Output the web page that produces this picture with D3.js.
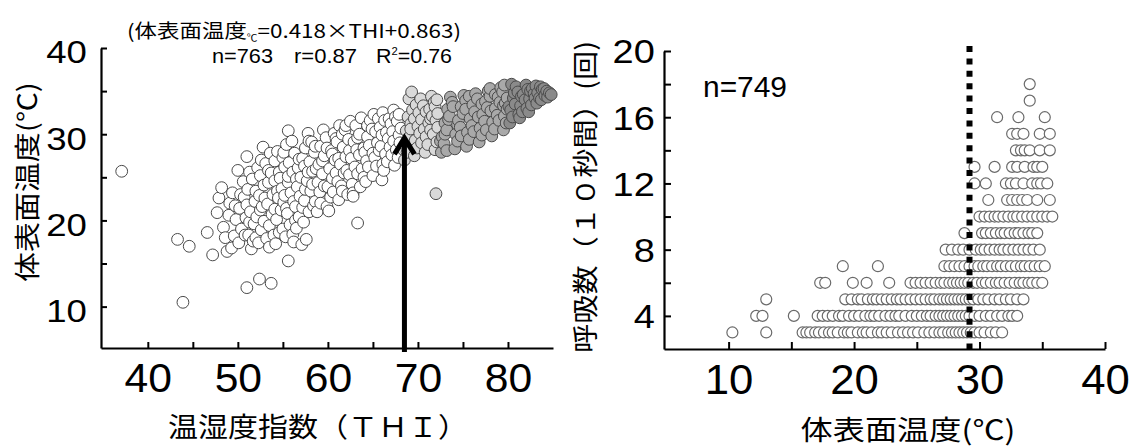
<!DOCTYPE html>
<html><head><meta charset="utf-8">
<script src="https://cdn.jsdelivr.net/npm/d3@7"></script>
<style>
html,body{margin:0;padding:0;background:#fff;}
svg{display:block;}
text{font-family:"Liberation Sans",Arial,sans-serif;fill:#000;}
.jp{font-family:"Noto Sans CJK JP","Noto Sans",sans-serif;}
</style></head><body>
<svg id="chart" width="1134" height="446"></svg>
<script>
// ---- Left panel: THI vs body surface temperature ----
const thiTicks = [40,45,50,55,60,65,70,75,80];
const thiLabels = [40,50,60,70,80];
const tempTicks = [10,15,20,25,30,35,40];
const tempLabels = [10,20,30,40];
const arrowThi = 68.5;      // THI threshold marked by the arrow
const arrowTipTemp = 29.9;
// [THI, surface temperature °C]
const thiTempPairs = [
  [37.1,25.7],[43.3,17.8],[44.6,17.0],[43.9,10.5],[46.6,18.6],[47.2,16.0],[51.0,12.2],[52.4,13.2],
  [53.7,12.7],[55.6,15.3],[63.3,19.7],[62.8,23.2],[51.0,27.4],[55.6,30.4],
  [48.2,23.8],[47.7,20.9],[49.1,22.0],[48.8,16.4],[49.3,16.8],[48.4,19.2],[47.9,22.6],
  [49.6,18.2],[49.8,20.1],[50.2,21.4],[49.4,23.2],[50.6,24.5],[50.1,17.4],[50.4,19.0],[50.9,20.3],[50.7,22.7],[51.3,25.6],
  [51.5,16.7],[51.2,18.3],[51.8,19.6],[51.4,21.0],[51.9,22.2],[51.1,23.6],[51.6,24.8],[52.2,26.1],[52.8,28.5],
  [52.3,17.4],[52.6,18.9],[52.1,20.4],[52.7,21.6],[52.4,22.9],[52.9,24.1],[52.5,25.2],[53.1,26.6],[53.6,27.8],
  [53.2,17.9],[53.5,19.4],[53.8,20.7],[53.3,21.9],[53.9,23.0],[53.4,24.4],[53.7,25.5],[54.1,26.9],[54.4,28.0],
  [54.2,17.3],[54.6,18.6],[54.3,20.1],[54.8,21.2],[54.5,22.6],[54.9,23.7],[54.7,24.9],[55.2,26.2],[55.0,27.3],[55.4,28.8],
  [55.3,18.1],[55.8,19.5],[55.5,20.8],[55.1,22.1],[55.9,23.2],[55.6,24.4],[56.1,25.6],[55.7,26.7],[56.3,27.8],[56.0,29.2],
  [56.2,17.5],[56.5,19.1],[56.8,20.4],[56.4,21.6],[56.9,22.8],[56.6,23.9],[57.0,25.0],[56.7,26.1],[57.2,27.2],[57.5,28.4],[57.8,30.1],
  [57.1,17.2],[57.6,17.8],[57.3,19.8],[57.9,21.0],[57.4,22.3],[58.1,23.4],[57.7,24.6],[58.3,25.7],[58.0,26.8],[58.5,27.9],[58.2,29.1],
  [58.8,21.0],[58.6,22.2],[59.1,23.3],[58.9,24.4],[59.4,25.4],[59.0,26.5],[59.6,27.5],[59.2,28.6],[59.8,29.6],[59.5,30.5],
  [59.9,21.6],[60.3,22.7],[60.0,23.9],[60.5,24.9],[60.2,26.0],[60.8,27.0],[60.4,28.1],[61.0,29.1],[60.7,30.1],[61.3,31.0],
  [61.2,22.4],[61.6,23.4],[61.1,24.5],[61.8,25.5],[61.4,26.5],[62.0,27.4],[61.7,28.5],[62.3,29.4],[61.9,30.5],[62.5,31.5],
  [62.2,23.0],[62.7,24.2],[62.4,25.3],[63.0,26.2],[62.6,27.2],[63.2,28.2],[62.9,29.1],[63.5,30.0],[63.1,31.0],[63.7,31.9],
  [63.6,23.9],[64.0,25.0],[63.8,26.0],[64.3,26.9],[64.1,27.9],[64.6,28.7],[64.4,29.7],[64.9,30.6],[64.7,31.6],[65.1,32.3],
  [65.0,25.2],[65.4,26.3],[65.2,27.3],[65.7,28.1],[65.5,29.0],[66.0,29.9],[65.8,30.8],[66.3,31.6],[66.1,32.5],
  [66.2,25.8],[66.6,26.8],[66.4,27.7],[66.9,28.5],[66.7,29.5],[67.2,30.3],[67.0,31.2],[67.5,32.0],[67.3,32.8],
  [67.4,26.4],[67.8,27.3],[67.6,28.2],[68.0,29.0],[67.9,29.9],[68.1,30.7],[67.7,31.5],
  [48.6,18.0],[49.0,20.6],[49.7,21.7],[50.3,23.0],[50.0,25.8],[50.8,18.3],[51.7,17.6],[51.0,21.8],[51.3,19.8],
  [52.0,23.4],[52.0,18.0],[52.9,19.9],[52.5,21.2],[53.0,22.6],[53.4,25.8],[52.6,27.0],[53.5,16.9],[54.0,18.3],
  [54.1,21.3],[54.4,23.4],[54.1,24.6],[54.6,25.6],[55.0,19.0],[55.4,21.4],[55.2,22.9],[55.6,25.1],[55.1,27.9],
  [56.1,18.4],[56.4,20.0],[56.2,22.2],[56.5,24.8],[56.8,27.1],[57.2,21.5],[57.5,23.6],[57.8,25.6],[57.4,26.3],
  [57.9,29.2],[58.4,21.7],[58.3,24.2],[58.7,26.0],[58.6,28.6],[59.2,22.0],[59.6,24.0],[59.4,26.9],[59.9,28.4],
  [60.1,21.1],[60.6,23.3],[60.9,25.5],[60.5,27.7],[60.9,29.5],[61.5,24.0],[61.2,27.2],[61.6,30.0],[62.1,25.8],
  [62.4,28.1],[62.0,31.0],[62.8,22.8],[63.3,25.4],[63.5,27.6],[63.3,29.6],[64.2,24.5],[64.5,26.2],[64.0,28.4],
  [64.4,31.0],[65.0,27.8],[65.3,30.3],[65.6,31.8],[66.1,26.5],[65.9,28.6],[66.5,30.2],[66.8,31.8],[67.1,27.6],
  [67.3,29.2],[67.9,32.3],[66.0,24.7],
  [68.5,27.0],[68.8,27.9],[68.6,28.8],[69.0,29.6],[68.7,30.4],[69.2,31.2],[68.9,32.0],[69.4,32.8],[69.3,34.9],
  [69.6,27.5],[69.9,28.4],[69.7,29.3],[70.2,30.1],[70.0,30.9],[70.4,31.7],[70.1,32.5],[70.6,33.3],[70.3,34.1],
  [70.8,27.9],[71.1,28.8],[70.9,29.7],[71.4,30.5],[71.2,31.3],[71.6,32.1],[71.3,32.9],[71.8,33.7],[71.5,34.4],
  [71.9,28.2],[72.1,29.1],[71.7,30.0],[72.2,30.8],[72.0,31.6],[72.2,32.4],[72.0,23.1],
  [68.4,28.2],[68.9,29.2],[69.2,30.6],[69.6,31.8],[69.8,33.4],[70.4,29.0],[70.7,30.6],[70.9,32.6],[71.4,31.8],
  [71.9,33.2],[72.1,34.0],[69.0,34.1],
  [72.6,27.9],[72.9,28.9],[72.7,29.7],[73.2,30.5],[73.0,31.3],[73.5,32.1],[73.3,32.9],[73.8,33.7],[73.6,34.3],
  [74.1,28.3],[74.4,29.2],[74.2,30.0],[74.7,30.8],[74.5,31.6],[75.0,32.4],[74.8,33.2],[75.3,33.9],[75.1,34.5],
  [75.4,28.6],[75.7,29.4],[75.5,30.2],[76.0,31.0],[75.8,31.8],[76.3,32.6],[76.1,33.4],[76.6,34.1],[76.4,34.7],
  [76.8,29.1],[77.1,29.9],[76.9,30.7],[77.4,31.5],[77.2,32.3],[77.7,33.1],[77.5,33.8],[78.0,34.4],[77.8,35.0],
  [78.2,29.8],[78.5,30.6],[78.3,31.4],[78.8,32.2],[78.6,33.0],[79.1,33.7],[78.9,34.3],[79.4,34.9],[79.2,35.4],
  [79.5,30.5],[79.8,31.3],[79.6,32.1],[79.9,32.9],[79.7,33.6],[79.9,34.2],[79.6,35.7],
  [72.5,29.2],[73.0,30.0],[73.4,31.7],[73.9,33.2],[74.4,31.1],[74.8,29.8],[75.3,32.9],[75.7,34.4],[76.2,30.3],
  [76.7,32.0],[77.1,33.5],[77.6,30.5],[78.1,32.7],[78.6,34.6],[79.0,31.6],[79.5,33.3],[78.0,35.3],[73.2,28.1],
  [80.2,31.3],[80.5,32.0],[80.3,32.8],[80.8,33.5],[80.6,34.2],[81.1,34.9],[80.9,35.5],[80.4,35.8],
  [81.3,31.9],[81.6,32.6],[81.4,33.3],[81.9,34.0],[81.7,34.6],[82.2,35.2],[82.0,35.7],
  [82.3,32.6],[82.6,33.4],[82.4,34.1],[82.9,34.7],[82.7,35.3],[83.1,35.6],
  [83.2,33.6],[83.5,34.2],[83.3,34.8],[83.8,35.2],[83.6,35.5],[84.1,34.5],[84.3,35.0],[84.6,34.8],[84.4,34.3],
  [80.1,33.2],[80.7,34.8],[81.2,32.3],[81.5,34.4],[82.1,33.0],[82.5,35.0],[83.0,34.2],[83.7,34.0],[84.0,35.3],[84.8,34.6]
];
const thiBands = [68.3, 72.3, 80];
const bandFills = ["#ffffff", "#d9d9d9", "#a9a9a9", "#8a8a8a"];

// ---- Right panel: surface temperature vs respiration rate ----
const respTicks = [4,6,8,10,12,14,16,18,20];
const respLabels = [4,8,12,16,20];
const surfTicks = [10,15,20,25,30,35,40];
const surfLabels = [10,20,30,40];
const thresholdTemp = 29.2;  // dotted reference line
const respRates = [3,4,5,6,7,8,9,10,11,12,13,14,15,16,17,18];
const surfTempByRate = [
  [10.3,13.0,15.9,16.2,16.5,16.9,17.2,17.6,18.0,18.3,18.7,19.2,19.5,19.8,20.3,20.7,21.0,21.4,21.9,22.2,22.6,23.0,23.5,23.9,24.3,24.7,25.1,25.6,26.0,26.4,26.8,27.1,27.5,27.8,28.1,28.4,28.7,29.0,29.3,29.6,30.0,30.4,30.9,31.3,31.8],
  [12.2,12.7,15.2,17.1,17.5,17.9,18.3,18.8,19.1,19.6,20.0,20.4,20.9,21.3,21.6,22.0,22.5,22.9,23.3,23.6,24.1,24.6,25.0,25.4,25.8,26.1,26.5,26.8,27.1,27.4,27.7,28.0,28.3,28.6,28.9,29.2,29.6,30.0,30.5,30.9,31.4,31.8,32.3,32.6,33.0],
  [13.0,19.3,19.8,20.3,20.6,21.1,21.5,21.8,22.2,22.6,23.0,23.4,23.7,24.1,24.5,24.9,25.3,25.7,26.1,26.4,26.8,27.1,27.4,27.7,28.0,28.3,28.6,28.9,29.2,29.5,29.9,30.3,30.7,31.2,31.6,32.1,32.5,33.0,33.5],
  [17.3,17.7,19.9,21.0,22.8,24.5,24.9,25.3,25.7,26.1,26.5,26.9,27.2,27.6,27.9,28.2,28.5,28.8,29.1,29.5,29.8,30.2,30.5,30.9,31.3,31.6,32.0,32.4,32.8,33.2,33.5,33.9,34.2,34.6,35.0],
  [19.1,21.9,27.2,27.6,28.0,28.4,28.8,29.2,29.6,29.9,30.3,30.6,31.0,31.4,31.7,32.1,32.5,32.9,33.3,33.6,34.0,34.4,34.8,35.2],
  [27.3,27.8,28.3,28.7,29.2,29.7,30.1,30.4,30.8,31.2,31.6,31.9,32.3,32.7,33.1,33.5,33.9,34.3,34.8],
  [28.8,30.2,30.5,30.9,31.3,31.7,32.0,32.4,32.8,33.1,33.5,33.9,34.2,34.6],
  [30.0,30.4,30.8,31.2,31.5,31.9,32.3,32.7,33.0,33.4,33.8,34.2,34.6,35.0,35.4,35.8],
  [30.7,32.2,32.6,33.0,33.4,33.8,34.6,35.6],
  [29.6,30.5,32.1,32.5,32.9,33.5,34.2,34.6,34.9,35.4],
  [29.6,31.2,32.6,33.0,33.6,34.3,34.6,35.0],
  [32.9,33.3,33.6,34.0,34.8,35.6],
  [32.6,33.0,33.5,34.8,35.6],
  [31.4,33.1,35.2],
  [34.0],
  [34.0]
];

const svg = d3.select("#chart");

// Scales
const xL = d3.scaleLinear().domain([34.8, 85]).range([101, 553]);
const yL = d3.scaleLinear().domain([5.2, 40]).range([348, 48]);
const xR = d3.scaleLinear().domain([4.85, 40]).range([664, 1105]);
const yR = d3.scaleLinear().domain([2, 20]).range([349, 51]);
const bandColor = d3.scaleThreshold().domain(thiBands).range(bandFills);

function styleAxis(g) {
  g.select(".domain").attr("stroke", "#000").attr("stroke-width", 2.2);
  g.selectAll(".tick line").attr("stroke", "#000").attr("stroke-width", 2);
}

// ---------- Left panel ----------
svg.append("g")
  .attr("transform", `translate(0,${yL.range()[0]})`)
  .call(d3.axisBottom(xL).tickValues(thiTicks).tickSizeInner(-6).tickSizeOuter(0).tickFormat(""))
  .call(styleAxis);
svg.append("g")
  .attr("transform", `translate(${xL.range()[0]},0)`)
  .call(d3.axisLeft(yL).tickValues(tempTicks).tickSizeInner(-6).tickSizeOuter(0).tickFormat(""))
  .call(styleAxis);

const xLabL = svg.append("g")
  .attr("transform", `translate(0,${yL.range()[0]})`)
  .call(d3.axisBottom(xL).tickValues(thiLabels).tickSize(0).tickPadding(15).tickFormat(d3.format("d")));
xLabL.select(".domain").remove();
xLabL.selectAll("text").attr("font-size", 41).attr("font-family", "Liberation Sans, Arial, sans-serif")
  .attr("transform", "scale(1.04,1)");

const yLabL = svg.append("g")
  .attr("transform", `translate(${xL.range()[0]},0)`)
  .call(d3.axisLeft(yL).tickValues(tempLabels).tickSize(0).tickPadding(12).tickFormat(d3.format("d")));
yLabL.select(".domain").remove();
yLabL.selectAll("text").attr("font-size", 31).attr("font-family", "Liberation Sans, Arial, sans-serif")
  .attr("dy", "0.48em").attr("transform", "scale(1.18,1)");

// points, drawn in THI order so the grey bands sit over the white cloud
svg.append("g").selectAll("circle")
  .data(thiTempPairs.slice().sort((a, b) => a[0] - b[0]))
  .join("circle")
  .attr("cx", d => xL(d[0]))
  .attr("cy", d => yL(d[1]))
  .attr("r", 5.9)
  .attr("fill", d => bandColor(d[0]))
  .attr("stroke", "#4a4a4a")
  .attr("stroke-width", 1);

// arrow at the THI threshold
const ax = xL(arrowThi), ay = yL(arrowTipTemp);
svg.append("line")
  .attr("x1", ax).attr("x2", ax)
  .attr("y1", yL.range()[0] + 4).attr("y2", ay + 3)
  .attr("stroke", "#000").attr("stroke-width", 5);
svg.append("path")
  .attr("d", `M${ax - 10},${ay + 19}L${ax},${ay + 3}L${ax + 10},${ay + 19}`)
  .attr("fill", "none").attr("stroke", "#000").attr("stroke-width", 5)
  .attr("stroke-linejoin", "miter");

// regression annotation
const eq = svg.append("text").attr("class", "jp").attr("x", 127).attr("y", 38).attr("font-size", 19)
  .attr("textLength", 334).attr("lengthAdjust", "spacingAndGlyphs");
eq.append("tspan").text("(体表面温度");
eq.append("tspan").attr("font-size", 9).attr("dy", 3).text("℃");
eq.append("tspan").attr("dy", -3).text("=0.418×THI+0.863)");

const stats = [
  {t: "n=763", x: 212, w: 61},
  {t: "r=0.87", x: 294, w: 63}
];
stats.forEach(s => {
  svg.append("text").attr("x", s.x).attr("y", 63).attr("font-size", 21)
    .attr("textLength", s.w).attr("lengthAdjust", "spacingAndGlyphs").text(s.t);
});
const r2 = svg.append("text").attr("x", 376).attr("y", 63).attr("font-size", 21)
  .attr("textLength", 76).attr("lengthAdjust", "spacingAndGlyphs");
r2.append("tspan").text("R");
r2.append("tspan").attr("font-size", 11).attr("dy", -8).text("2");
r2.append("tspan").attr("dy", 8).text("=0.76");

// axis titles
svg.append("text").attr("class", "jp")
  .attr("transform", "translate(25,182) rotate(-90)")
  .attr("text-anchor", "middle").attr("dominant-baseline", "central")
  .attr("font-size", 26).attr("textLength", 200).attr("lengthAdjust", "spacingAndGlyphs")
  .text("体表面温度(℃)");
svg.append("text").attr("class", "jp")
  .attr("x", 318).attr("y", 425)
  .attr("text-anchor", "middle").attr("dominant-baseline", "central")
  .attr("font-size", 27).attr("textLength", 300).attr("lengthAdjust", "spacingAndGlyphs")
  .text("温湿度指数（ＴＨＩ）");

// ---------- Right panel ----------
svg.append("g")
  .attr("transform", `translate(0,${yR.range()[0]})`)
  .call(d3.axisBottom(xR).tickValues(surfTicks).tickSizeInner(-7).tickSizeOuter(0).tickFormat(""))
  .call(styleAxis);
svg.append("g")
  .attr("transform", `translate(${xR.range()[0]},0)`)
  .call(d3.axisLeft(yR).tickValues(respTicks).tickSizeInner(-7).tickSizeOuter(0).tickFormat(""))
  .call(styleAxis);

const xLabR = svg.append("g")
  .attr("transform", `translate(0,${yR.range()[0]})`)
  .call(d3.axisBottom(xR).tickValues(surfLabels).tickSize(0).tickPadding(15).tickFormat(d3.format("d")));
xLabR.select(".domain").remove();
xLabR.selectAll("text").attr("font-size", 42).attr("font-family", "Liberation Sans, Arial, sans-serif")
  .attr("transform", "scale(1.04,1)");

const yLabR = svg.append("g")
  .attr("transform", `translate(${xR.range()[0]},0)`)
  .call(d3.axisLeft(yR).tickValues(respLabels).tickSize(0).tickPadding(8).tickFormat(d3.format("d")));
yLabR.select(".domain").remove();
yLabR.selectAll("text").attr("font-size", 33).attr("font-family", "Liberation Sans, Arial, sans-serif")
  .attr("dy", "0.36em").attr("transform", "scale(1.15,1)");

// points, one row per respiration count
const respPoints = respRates.flatMap((r, i) => surfTempByRate[i].map(t => ({r, t})));
svg.append("g").selectAll("circle")
  .data(respPoints)
  .join("circle")
  .attr("cx", d => xR(d.t))
  .attr("cy", d => yR(d.r))
  .attr("r", 5.5)
  .attr("fill", "#fff")
  .attr("stroke", "#6a6a6a")
  .attr("stroke-width", 1.2);

// dotted threshold line
svg.append("line")
  .attr("x1", xR(thresholdTemp)).attr("x2", xR(thresholdTemp))
  .attr("y1", 46).attr("y2", yR.range()[0] + 5)
  .attr("stroke", "#000").attr("stroke-width", 6)
  .attr("stroke-dasharray", "6,6.4");

svg.append("text").attr("x", 703).attr("y", 97).attr("font-size", 30)
  .attr("textLength", 84).attr("lengthAdjust", "spacingAndGlyphs").text("n=749");

svg.append("text").attr("class", "jp")
  .attr("transform", "translate(583,197) rotate(-90)")
  .attr("text-anchor", "middle").attr("dominant-baseline", "central")
  .attr("font-size", 26).attr("textLength", 312).attr("lengthAdjust", "spacingAndGlyphs")
  .text("呼吸数（１０秒間）(回)");
svg.append("text").attr("class", "jp")
  .attr("x", 908).attr("y", 428)
  .attr("text-anchor", "middle").attr("dominant-baseline", "central")
  .attr("font-size", 27).attr("textLength", 215).attr("lengthAdjust", "spacingAndGlyphs")
  .text("体表面温度(℃)");
</script></body></html>
